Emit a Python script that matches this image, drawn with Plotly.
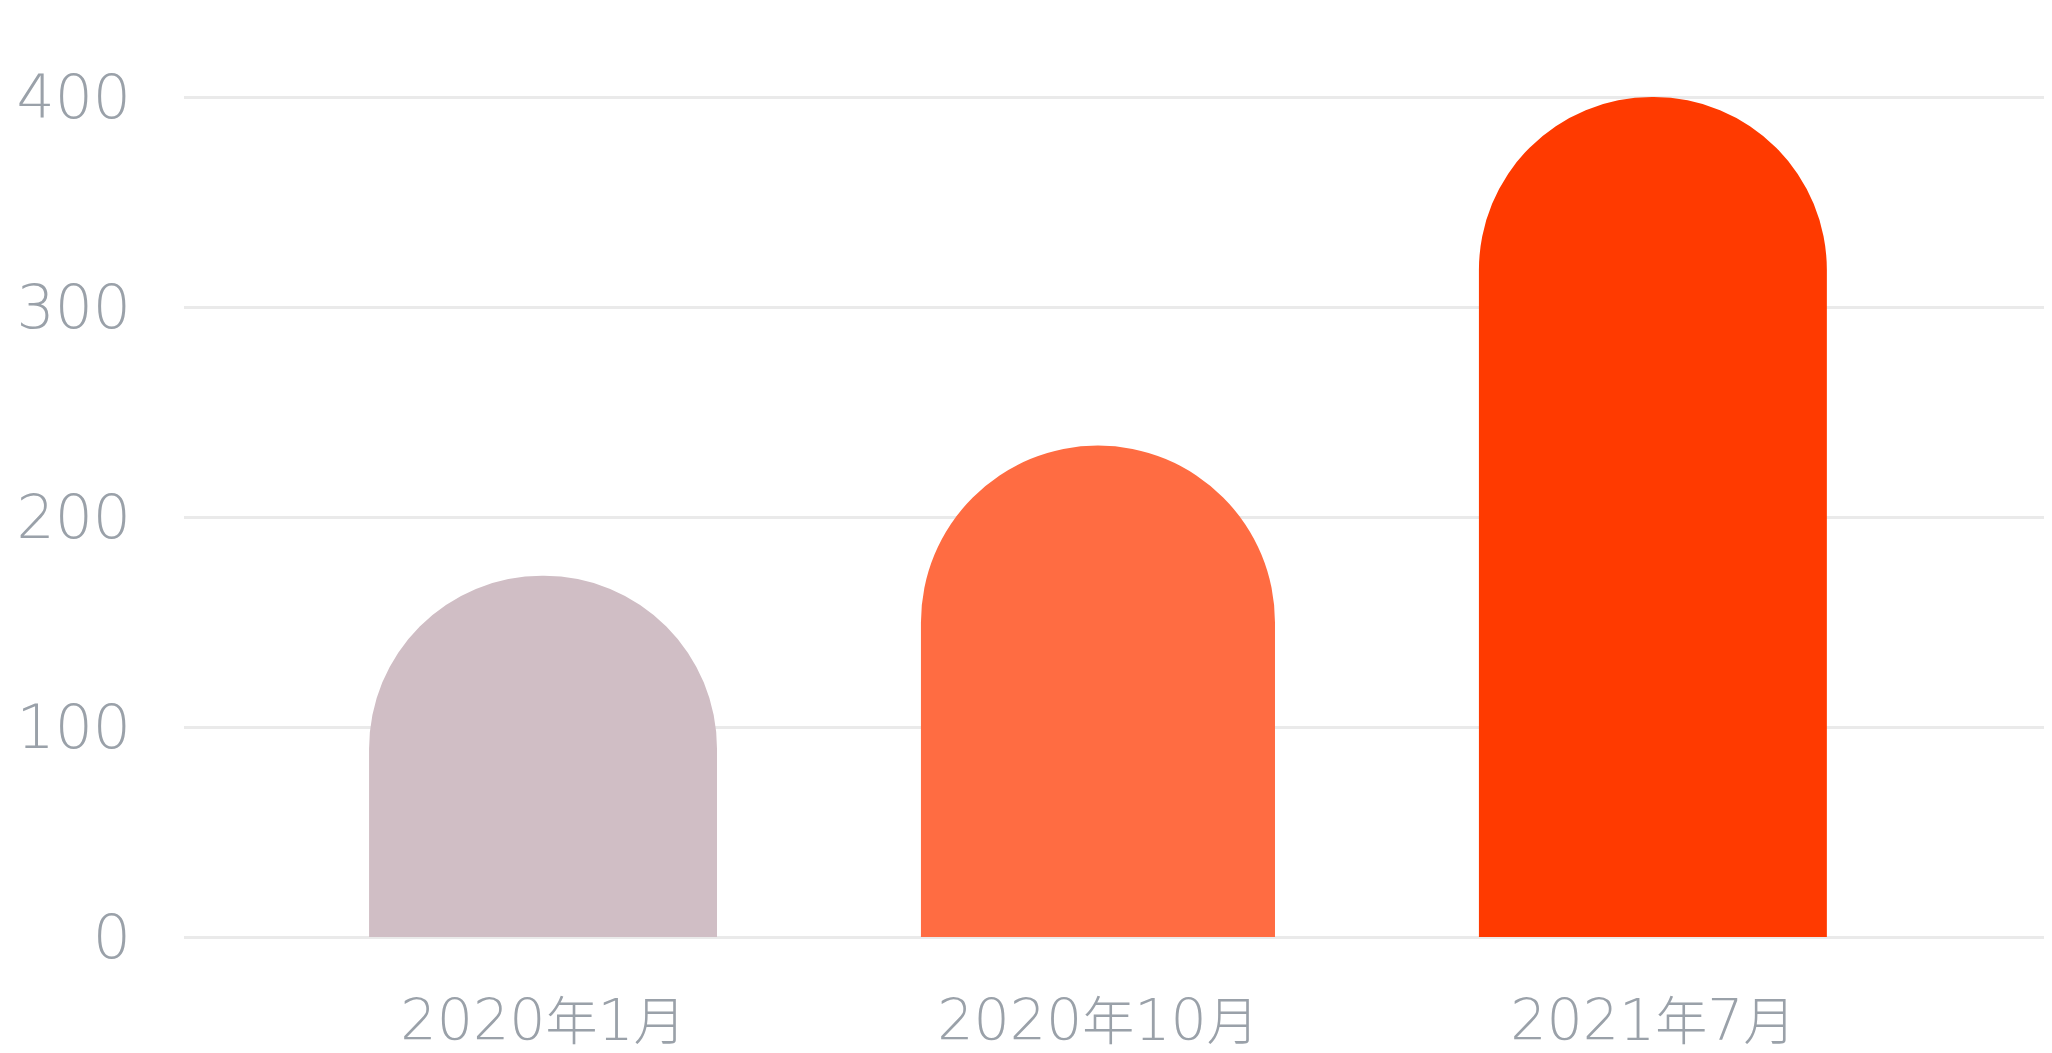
import plotly.graph_objects as go

categories = ["2020年1月", "2020年10月", "2021年7月"]
values = [172, 234, 400]
colors = ["#D0BEC5", "#FF6C42", "#FF3A00"]
bar_widths = [0.627, 0.638, 0.627]
y_ticks = [0, 100, 200, 300, 400]


def fmt_label(s):
    out = ""
    for ch in s:
        if ord(ch) > 0x2E80:
            out += '<span style="font-size:52px">' + ch + "</span>"
        else:
            out += ch
    return out


tick_text = [fmt_label(c) for c in categories]

fig = go.Figure()
fig.add_trace(go.Bar(
    x=[0, 1, 2],
    y=values,
    width=bar_widths,
    marker=dict(color=colors, cornerradius="50%", line=dict(width=0)),
    hoverinfo="skip",
))

font_family = "'DejaVu Sans', 'Noto Sans CJK SC', sans-serif"
y_font = dict(family=font_family, size=60, color="#9AA1A9", weight=200)
x_font = dict(family=font_family, size=57, color="#9AA1A9", weight=200)

fig.update_layout(
    width=2044, height=1045,
    margin=dict(l=176, r=4, t=47, b=116),
    paper_bgcolor="white", plot_bgcolor="white",
    showlegend=False,
    xaxis=dict(
        range=[-0.647, 2.712],
        tickmode="array", tickvals=[0, 1, 2], ticktext=tick_text,
        showgrid=False, zeroline=False, showline=False, automargin=False,
        ticks="", tickfont=x_font, ticklabelstandoff=45,
    ),
    yaxis=dict(
        range=[0, 420],
        tickmode="array", tickvals=y_ticks,
        showgrid=True, gridcolor="#EAEAEA", gridwidth=3,
        zeroline=True, zerolinecolor="#EAEAEA", zerolinewidth=3,
        showline=False, ticks="", tickfont=y_font, automargin=False,
        ticklabelstandoff=52,
    ),
)

fig.write_html("out.html")
